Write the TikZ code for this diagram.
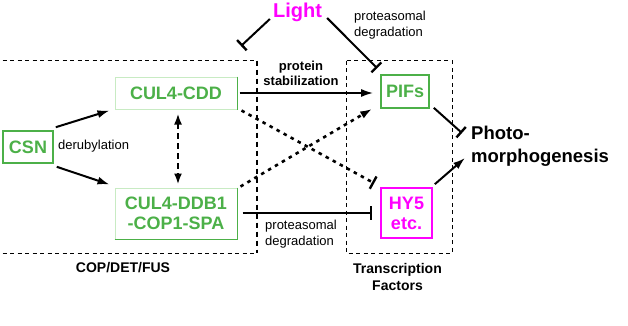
\documentclass[tikz,border=0pt]{standalone}
\usepackage{fontspec}
\setmainfont{Liberation Sans}
\usetikzlibrary{arrows.meta,calc}
\definecolor{cgreen}{RGB}{76,176,72}
\definecolor{cpale}{RGB}{200,235,195}
\definecolor{cmag}{RGB}{255,0,255}
\tikzset{
  gbox/.style={draw=cgreen,line width=1.6pt,inner sep=0pt,text=cgreen,font=\bfseries\fontsize{18}{20}\selectfont,align=center},
  pbox/.style={draw=cpale,line width=1pt,inner sep=0pt,text=cgreen,font=\bfseries\fontsize{18}{20}\selectfont,align=center},
  mbox/.style={draw=cmag,line width=1.6pt,inner sep=0pt,text=cmag,font=\bfseries\fontsize{18}{20}\selectfont,align=center},
  lbl/.style={inner sep=0pt,font=\fontsize{13}{16}\selectfont},
  blbl/.style={inner sep=0pt,font=\bfseries\fontsize{13}{15}\selectfont},
  act/.style={line width=2pt,-{Latex[length=12pt,width=8pt]}},
  inh/.style={line width=2pt,-{Bar[width=14pt,line width=2.4pt]}},
  dots/.style={line width=2.6pt,dash pattern=on 3.5pt off 4.5pt},
  frame/.style={line width=0.8pt,dash pattern=on 4pt off 3.5pt},
}
\begin{document}
\begin{tikzpicture}[x=1pt,y=-1pt]
\useasboundingbox (0,0) rectangle (628,325);
% dashed frames
\draw[frame] (-5,60.5) -- (257,60.5);
\draw[frame] (-5,253) -- (257,253);
\draw[line width=1.6pt,dash pattern=on 5pt off 4pt] (257,60.5) -- (257,253);
\draw[frame] (346,60.5) rectangle (452,253);
% nodes
\node[gbox,minimum width=50pt,minimum height=32pt] (csn) at (28,147) {CSN};
\node[pbox,minimum width=122pt,minimum height=32pt] (cdd) at (176,93) {CUL4-CDD};
\draw[cgreen,line width=1.2pt] (cdd.north east) -- (cdd.south east);
\node[pbox,minimum width=122pt,minimum height=51pt] (ddb) at (176,213.5) {CUL4-DDB1\\-COP1-SPA};
\draw[cgreen,line width=1.2pt] (ddb.north east) -- (ddb.south east);
\draw[cgreen,line width=1.2pt] (ddb.south west) -- (ddb.south east);
\node[gbox,minimum width=48pt,minimum height=33pt] (pifs) at (405,91.5) {PIFs};
\node[mbox,minimum width=51pt,minimum height=50pt] (hy5) at (406.5,213) {HY5\\etc.};
\node[inner sep=0pt,text=cmag,font=\bfseries\fontsize{20}{22}\selectfont] (light) at (297.5,12) {Light};
\node[inner sep=0pt,anchor=west,align=left,font=\bfseries\fontsize{18.5}{23}\selectfont] (photo) at (471,146) {Photo-\\morphogenesis};
% labels
\node[lbl,anchor=west] (derub) at (58,146) {derubylation};
\node[blbl,align=center] (stab) at (301,73) {protein\\stabilization};
\node[lbl,anchor=west,align=left] (pd1) at (354,25) {proteasomal\\degradation};
\node[lbl,anchor=west,align=left] (pd2) at (265,234) {proteasomal\\degradation};
\node[inner sep=0pt,font=\bfseries\fontsize{14}{17}\selectfont] (cop) at (123,268) {COP/DET/FUS};
\node[inner sep=0pt,align=center,font=\bfseries\fontsize{14}{17}\selectfont] (tf) at (397.5,277) {Transcription\\Factors};
% connectors
\draw[act] ($(csn.north east)+(2,-3)$) -- ($(cdd.south west)+(-5,1)$);
\draw[act] ($(csn.south east)+(3,3)$) -- ($(ddb.north west)+(-5,-3)$);
\draw[line width=2.6pt,dash pattern=on 6pt off 4pt,{Latex[length=11pt,width=8pt]}-{Latex[length=11pt,width=8pt]}] ($(cdd.south)+(2,4)$) -- ($(ddb.north)+(2,-3)$);
\draw[act] ($(cdd.east)+(2,0)$) -- ($(cdd.east -| pifs.west)+(-7,0)$);
\draw[dots,-{Bar[width=14pt,line width=2.4pt]}] ($(cdd.south east)+(4,1)$) -- ($(hy5.north west)+(-6,-4)$);
\draw[dots,-{Latex[length=12pt,width=8pt]}] ($(ddb.north east)+(3,-1)$) -- ($(pifs.south west)+(-8,0)$);
\draw[inh] ($(ddb.east)+(5,-0.5)$) -- ($(ddb.east -| hy5.west)+(-8,-0.5)$);
\coordinate (lightend) at (241,46);
\draw[inh] ($(light.west)+(-3,7)$) -- (lightend);
\draw[inh] ($(light.east)+(5,6)$) -- ($(pifs.north west)+(-3,-6)$);
\draw[inh] ($(pifs.south east)+(4,-1)$) -- ($(photo.west)+(-9,-13)$);
\draw[act] ($(hy5.north east)+(2,-3)$) -- ($(photo.west)+(-6,12)$);
\end{tikzpicture}
\end{document}
